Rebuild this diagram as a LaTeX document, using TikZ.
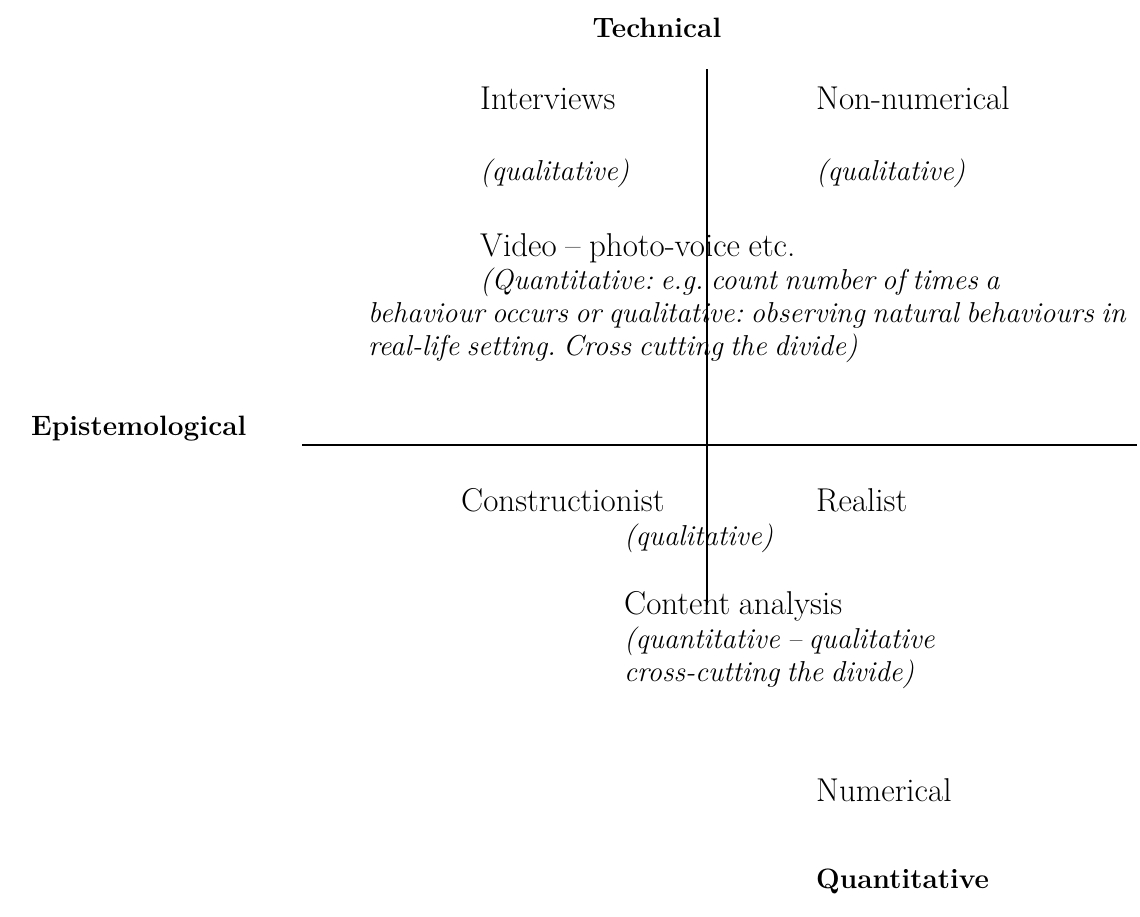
\documentclass[tikz,border=0pt]{standalone}
\usepackage{fontspec}
\newcommand\myBodySpace{\frenchspacing\spaceskip=8.6pt plus 2pt minus 2pt\relax}
\newcommand\myItalSpace{\frenchspacing\spaceskip=7.3pt plus 2pt minus 2pt\relax}
\begin{document}
\begin{tikzpicture}[x=1pt,y=-1pt,
  body/.style={anchor=base west, inner sep=0pt, font=\fontsize{33}{36}\selectfont\myBodySpace},
  ital/.style={anchor=base west, inner sep=0pt, font=\fontsize{28.8}{34}\selectfont\itshape\myItalSpace},
  lab/.style={anchor=base west, inner sep=0pt, font=\fontsize{28}{32}\selectfont\bfseries},
  axis/.style={line width=2.2pt}]
\useasboundingbox (0,0) rectangle (1140,916);
% axes
\coordinate (vtop) at (707,69);
\coordinate (vbot) at (707,605);
\coordinate (hl) at (302,445);
\coordinate (hr) at (1137,445);
% labels
\node[lab, anchor=base] (tech) at (657,37) {Technical};
\node[lab] (epi) at (31,435) {Epistemological};
\node[lab] (quant) at (816,888) {Quantitative};
% upper quadrants
\node[body] (int) at (480,109) {Interviews};
\node[body] (nonnum) at (816,109) {Non-numerical};
\node[ital] (q1) at (480,180) {(qualitative)};
\node[ital] (q2) at (816,180) {(qualitative)};
\node[body] (video) at (480,256) {Video – photo-voice etc.};
\node[ital] (v1) at (480,289) {(Quantitative: e.g. count number of times a};
\node[ital] (v2) at (368,322) {behaviour occurs or qualitative: observing natural behaviours in};
\node[ital] (v3) at (368,355) {real-life setting. Cross cutting the divide)};
% lower quadrants
\node[body] (cons) at (461,511) {Constructionist};
\node[body] (real) at (816,511) {Realist};
\node[ital] (q3) at (624,545) {(qualitative)};
\node[body] (ca) at (624,614) {Content analysis};
\node[ital] (c1) at (624,648) {(quantitative – qualitative};
\node[ital] (c2) at (624,681) {cross-cutting the divide)};
\node[body] (num) at (816,801) {Numerical};
% draw axes
\draw[axis] (vtop) -- (vbot);
\draw[axis] (hl) -- (hr);
\end{tikzpicture}
\end{document}
